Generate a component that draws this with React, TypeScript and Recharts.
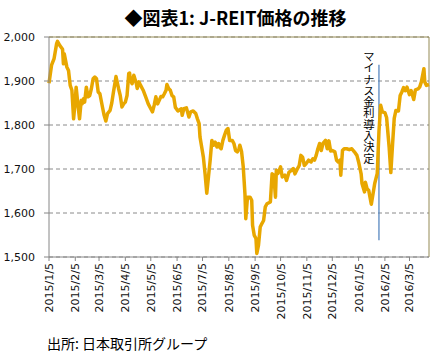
import { LineChart, Line, XAxis, YAxis, CartesianGrid, ReferenceLine } from 'recharts';

const dates = [
  "2015/1/5", "2015/1/8", "2015/1/11", "2015/1/14", "2015/1/15", "2015/1/18", "2015/1/21", "2015/1/22", "2015/1/23", "2015/1/26",
  "2015/1/28", "2015/1/30", "2015/2/1", "2015/2/3", "2015/2/5", "2015/2/6", "2015/2/8", "2015/2/10", "2015/2/12", "2015/2/13",
  "2015/2/15", "2015/2/16", "2015/2/18", "2015/2/20", "2015/2/22", "2015/2/24", "2015/2/26", "2015/2/28", "2015/3/2", "2015/3/4",
  "2015/3/6", "2015/3/9", "2015/3/11", "2015/3/13", "2015/3/15", "2015/3/18", "2015/3/20", "2015/3/22", "2015/3/24", "2015/3/25",
  "2015/3/28", "2015/3/30", "2015/4/1", "2015/4/3", "2015/4/5", "2015/4/7", "2015/4/9", "2015/4/10", "2015/4/11", "2015/4/13",
  "2015/4/15", "2015/4/18", "2015/4/19", "2015/4/21", "2015/4/23", "2015/4/26", "2015/4/29", "2015/5/2", "2015/5/5", "2015/5/7",
  "2015/5/9", "2015/5/11", "2015/5/13", "2015/5/15", "2015/5/17", "2015/5/19", "2015/5/21", "2015/5/23", "2015/5/24", "2015/5/26",
  "2015/5/28", "2015/5/30", "2015/6/1", "2015/6/3", "2015/6/6", "2015/6/10", "2015/6/11", "2015/6/13", "2015/6/16", "2015/6/19",
  "2015/6/21", "2015/6/24", "2015/6/27", "2015/6/29", "2015/7/1", "2015/7/2", "2015/7/4", "2015/7/6", "2015/7/8", "2015/7/10",
  "2015/7/12", "2015/7/14", "2015/7/16", "2015/7/18", "2015/7/20", "2015/7/22", "2015/7/24", "2015/7/25", "2015/7/27", "2015/7/29",
  "2015/7/31", "2015/8/2", "2015/8/4", "2015/8/6", "2015/8/9", "2015/8/11", "2015/8/13", "2015/8/15", "2015/8/17", "2015/8/18",
  "2015/8/20", "2015/8/22", "2015/8/24", "2015/8/25", "2015/8/27", "2015/8/30", "2015/9/1", "2015/9/2", "2015/9/4", "2015/9/6",
  "2015/9/7", "2015/9/9", "2015/9/11", "2015/9/13", "2015/9/15", "2015/9/17", "2015/9/19", "2015/9/23", "2015/9/25", "2015/9/27",
  "2015/9/29", "2015/9/30", "2015/10/2", "2015/10/5", "2015/10/7", "2015/10/10", "2015/10/12", "2015/10/15", "2015/10/18", "2015/10/20",
  "2015/10/22", "2015/10/25", "2015/10/27", "2015/10/29", "2015/10/31", "2015/11/2", "2015/11/4", "2015/11/7", "2015/11/10", "2015/11/12",
  "2015/11/14", "2015/11/16", "2015/11/18", "2015/11/20", "2015/11/22", "2015/11/24", "2015/11/27", "2015/11/29", "2015/12/1", "2015/12/3",
  "2015/12/5", "2015/12/8", "2015/12/10", "2015/12/12", "2015/12/14", "2015/12/15", "2015/12/17", "2015/12/19", "2015/12/22", "2015/12/25",
  "2015/12/28", "2015/12/31", "2016/1/3", "2016/1/5", "2016/1/8", "2016/1/9", "2016/1/12", "2016/1/13", "2016/1/15", "2016/1/17",
  "2016/1/20", "2016/1/24", "2016/1/27", "2016/1/29", "2016/1/31", "2016/2/2", "2016/2/5", "2016/2/7", "2016/2/10", "2016/2/12",
  "2016/2/14", "2016/2/16", "2016/2/18", "2016/2/21", "2016/2/23", "2016/2/25", "2016/2/27", "2016/2/29", "2016/3/2", "2016/3/5",
  "2016/3/7", "2016/3/10", "2016/3/12", "2016/3/15", "2016/3/17", "2016/3/19", "2016/3/22", "2016/3/23", "2016/3/25", "2016/3/28",
];

const prices = [
  1895, 1936, 1951, 1985, 1990, 1980, 1972, 1939, 1962, 1932,
  1924, 1890, 1879, 1814, 1856, 1886, 1848, 1814, 1856, 1848,
  1860, 1852, 1886, 1864, 1867, 1883, 1905, 1909, 1905, 1875,
  1871, 1841, 1822, 1809, 1826, 1833, 1850, 1875, 1898, 1910,
  1883, 1867, 1841, 1848, 1852, 1867, 1917, 1918, 1902, 1894,
  1913, 1894, 1883, 1898, 1890, 1879, 1864, 1848, 1837, 1830,
  1845, 1864, 1848, 1856, 1865, 1864, 1871, 1879, 1892, 1883,
  1879, 1867, 1864, 1840, 1832, 1837, 1822, 1837, 1839, 1818,
  1830, 1832, 1826, 1814, 1803, 1773, 1750, 1727, 1689, 1645,
  1682, 1720, 1765, 1754, 1761, 1750, 1758, 1750, 1746, 1765,
  1777, 1788, 1792, 1765, 1765, 1758, 1742, 1739, 1746, 1754,
  1740, 1705, 1644, 1587, 1636, 1636, 1629, 1572, 1549, 1542,
  1508, 1527, 1568, 1576, 1583, 1614, 1621, 1625, 1689, 1686,
  1636, 1697, 1690, 1705, 1682, 1686, 1674, 1693, 1697, 1701,
  1689, 1701, 1708, 1731, 1727, 1708, 1712, 1720, 1716, 1723,
  1720, 1731, 1746, 1758, 1742, 1758, 1765, 1746, 1764, 1741,
  1742, 1739, 1720, 1716, 1720, 1686, 1742, 1746, 1746, 1744,
  1746, 1739, 1731, 1716, 1689, 1667, 1648, 1670, 1655, 1651,
  1620, 1667, 1690, 1785, 1845, 1830, 1828, 1817, 1750, 1692,
  1755, 1815, 1833, 1832, 1867, 1875, 1885, 1878, 1886, 1869,
  1878, 1858, 1880, 1882, 1886, 1898, 1928, 1898, 1890, 1892,
];

const tickDates = [
  "2015/1/5", "2015/2/5", "2015/3/5", "2015/4/5", "2015/5/5", "2015/6/5", "2015/7/5", "2015/8/5",
  "2015/9/5", "2015/10/5", "2015/11/5", "2015/12/5", "2016/1/5", "2016/2/5", "2016/3/5",
];
const yTicks = [1500, 1600, 1700, 1800, 1900, 2000];
const eventDate = "2016/1/29";
const eventLabel = "マイナス金利導入決定";

const toTime = (s: string) => {
  const [y, m, d] = s.split('/').map(Number);
  return Date.UTC(y, m - 1, d);
};
const fromTime = (t: number) => {
  const d = new Date(t);
  return `${d.getUTCFullYear()}/${d.getUTCMonth() + 1}/${d.getUTCDate()}`;
};

const data = dates.map((s, i) => ({ t: toTime(s), price: prices[i] }));
const startT = data[0].t;
const endT = data[data.length - 1].t;

const numFont = '"DejaVu Sans", Verdana, sans-serif';
const jpFont = '"Noto Sans CJK JP", sans-serif';
const axisGray = '#868686';
const frameOlive = '#948A54';

const XTick = (props: any) => {
  const { x, y, payload } = props;
  return (
    <text
      x={x}
      y={y}
      transform={`rotate(-90 ${x} ${y})`}
      textAnchor="end"
      dy="0.36em"
      fontSize={11}
      fontFamily={numFont}
      fill="#111"
    >
      {fromTime(payload.value)}
    </text>
  );
};

export default function App() {
  return (
    <div style={{ position: 'absolute', left: 0, top: 0, width: 435, height: 354, background: '#fff' }}>
      <div style={{ position: 'absolute', left: 0, width: 471, top: 4, textAlign: 'center', fontFamily: jpFont, fontWeight: 700, fontSize: 18, lineHeight: '26px', color: '#000' }}>
        ◆図表1: J-REIT価格の推移
      </div>
      <LineChart width={435} height={354} data={data} margin={{ top: 37, right: 6, bottom: 37, left: 0 }}>
        <CartesianGrid vertical={false} stroke="#8a8a8a" strokeDasharray="4 3" />
        <XAxis
          dataKey="t"
          type="number"
          domain={[startT, endT]}
          ticks={tickDates.map(toTime)}
          interval={0}
          height={60}
          stroke={axisGray}
          tickSize={4}
          tick={<XTick />}
        />
        <YAxis
          domain={[1500, 2000]}
          ticks={yTicks}
          width={49}
          stroke={axisGray}
          tickSize={5}
          tickMargin={9}
          tickFormatter={(v: number) => v.toLocaleString('en-US')}
          tick={{ fontSize: 11, fontFamily: numFont, fill: '#111' }}
        />
        <ReferenceLine y={2000} stroke={frameOlive} strokeWidth={1} />
        <ReferenceLine x={endT} stroke={frameOlive} strokeWidth={1} />
        <ReferenceLine
          segment={[{ x: toTime(eventDate), y: 1937 }, { x: toTime(eventDate), y: 1538 }]}
          stroke="#4A7EBB"
          strokeWidth={1.2}
        />
        <Line
          type="linear"
          dataKey="price"
          stroke="#E8A700"
          strokeWidth={3.5}
          strokeLinejoin="round"
          dot={false}
          isAnimationActive={false}
        />
      </LineChart>
      <div style={{ position: 'absolute', left: 362, top: 51, writingMode: 'vertical-rl', textOrientation: 'upright', fontFamily: jpFont, fontSize: 11.3, lineHeight: '13px', color: '#000' }}>
        {eventLabel}
      </div>
      <div style={{ position: 'absolute', left: 47, top: 333, fontFamily: jpFont, fontSize: 14, lineHeight: '20px', color: '#000' }}>
        出所: 日本取引所グループ
      </div>
    </div>
  );
}
